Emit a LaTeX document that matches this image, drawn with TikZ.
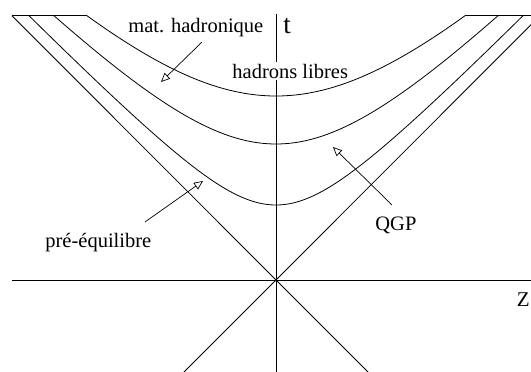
\documentclass[tikz,border=0pt]{standalone}
\usepackage{fontspec}
\setmainfont{Liberation Serif}
\usetikzlibrary{arrows.meta}
\begin{document}
\begin{tikzpicture}[x=1pt,y=-1pt, line width=0.8pt,
  lbl/.style={font=\fontsize{20.5}{24}\selectfont, inner sep=0pt, anchor=base west},
  ptr/.style={-{Triangle[open,length=9pt,width=8pt]}, line width=0.7pt},
  curve/.style={line width=0.8pt}]
\useasboundingbox (0,0) rectangle (531,372);
\clip (0,0) rectangle (531,372);
% named points
\coordinate (O) at (276,280);
\coordinate (tTop) at (276,14);
\coordinate (tBot) at (276,372);
\coordinate (zL) at (12,280);
\coordinate (zR) at (531,280);
\coordinate (cUL) at (12,15.7);
\coordinate (cUR) at (540,15.7);
\coordinate (cDL) at (184,372);
\coordinate (cDR) at (368,372);
% axes
\draw (tTop) -- (tBot);
\draw (zL) -- (zR);
% light cone
\draw (O) -- (cUL);
\draw (O) -- (cUR);
\draw (O) -- (cDL);
\draw (O) -- (cDR);
% hyperbolas
\draw[curve] plot[domain=-247:247, samples=121, smooth] ({276+\x},{280-100*sqrt(0.75^2+(1.026*\x/100)^2)});
\draw[curve] plot[domain=-222:222, samples=121, smooth] ({276+\x},{280-100*sqrt(1.36^2+(1.0207*\x/100)^2)});
\draw[curve] plot[domain=-189:189, samples=121, smooth] ({276+\x},{280-100*sqrt(1.84^2+(1.0037*\x/100)^2)});
% top edges
\coordinate (hL1) at (87,15.7);
\coordinate (hR1) at (465,15.7);
\draw (cUL) -- (hL1);
\draw (hR1) -- (cUR);
% labels
\node[lbl] (mat) at (128,32) {mat. hadronique};
\node[lbl, fill=white, inner ysep=2pt] (libres) at (232,78) {hadrons libres};
\node[lbl] (qgp) at (375,230.5) {QGP};
\node[lbl] (pre) at (45,247.5) {pré-équilibre};
\node[lbl, font=\fontsize{27}{30}\selectfont] (tlab) at (283,33) {t};
\node[lbl, font=\fontsize{21}{24}\selectfont] (zlab) at (516.5,306) {Z};
% pointers
\coordinate (mA) at (202,42);
\coordinate (mB) at (161,82);
\coordinate (pA) at (145,222);
\coordinate (pB) at (203,181);
\coordinate (qA) at (392,205);
\coordinate (qB) at (333,147);
\draw[ptr] (mA) -- (mB);
\draw[ptr] (pA) -- (pB);
\draw[ptr] (qA) -- (qB);
\end{tikzpicture}
\end{document}
